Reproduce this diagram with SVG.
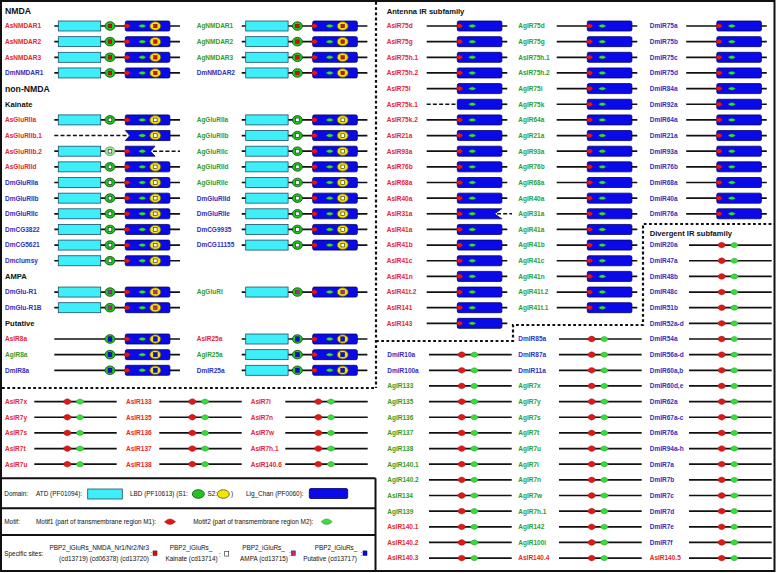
<svg xmlns="http://www.w3.org/2000/svg" width="778" height="573" viewBox="0 0 778 573">
<style>
text{font-family:"Liberation Sans",Arial,Helvetica,sans-serif}
.lb{font-size:6.5px;font-weight:bold}
.r{fill:#e8262b}.g{fill:#2e9e2e}.b{fill:#2f2fbf}
.h1{font-size:8.7px;font-weight:bold;fill:#111}
.h2{font-size:7.6px;font-weight:bold;fill:#111}
.lg{font-size:6.4px;fill:#111}
.mid{text-anchor:middle}.end{text-anchor:end}
.ln{stroke:#111;stroke-width:1.7;fill:none}
.dl{stroke:#111;stroke-width:1.5;stroke-dasharray:4 2.2;fill:none}
.dv{stroke:#111;stroke-width:2.2;stroke-dasharray:2.8 2.4;fill:none}
.sd{stroke:#111;stroke-width:2;fill:none}
.box{fill:#0a0ae8;stroke:#000070;stroke-width:0.8}
.atd{fill:#3eeef8;stroke:#1d4f66;stroke-width:0.8}
.s1{fill:#22c422;stroke:#0b4d0b;stroke-width:0.8}
.s1p{fill:#a8e6a0;stroke:#5a8a5a;stroke-width:0.8}
.s2{fill:#f4e400;stroke:#5e5600;stroke-width:0.8}
.mr{fill:#e01818;stroke:#700000;stroke-width:0.4}
.mg{fill:#36e036;stroke:#0a600a;stroke-width:0.4}
</style>
<defs>
<rect id="atd" class="atd" x="0" y="-5" width="42.4" height="10"/>
<rect id="lch" class="box" x="0" y="-5" width="44.6" height="10" rx="1.5"/>
<ellipse id="s1" class="s1" rx="5" ry="4.3"/>
<ellipse id="s2" class="s2" rx="5.5" ry="4.3"/>
<path id="m1s" class="mr" d="M-3.4,0Q0,-4.7 3.4,0Q0,4.7 -3.4,0Z"/>
<path id="m2s" class="mg" d="M-3.8,0Q0,-3.4 3.8,0Q0,3.4 -3.8,0Z"/>
<path id="m1" class="mr" d="M-4.4,0Q0,-5.8 4.4,0Q0,5.8 -4.4,0Z"/>
<path id="m2" class="mg" d="M-4.2,0Q0,-5.2 4.2,0Q0,5.2 -4.2,0Z"/>
<path id="m1L" class="mr" d="M-5.5,0Q0,-5.6 5.5,0Q0,5.6 -5.5,0Z"/>
<path id="m2L" class="mg" d="M-5.5,0Q0,-5.6 5.5,0Q0,5.6 -5.5,0Z"/>
<rect id="qN" x="-1.8" y="-1.8" width="3.6" height="3.6" fill="#d01010" stroke="#600" stroke-width="0.4"/>
<rect id="qK" x="-1.8" y="-1.8" width="3.6" height="3.6" fill="#fff" stroke="#222" stroke-width="0.6"/>
<rect id="qA" x="-1.8" y="-1.8" width="3.6" height="3.6" fill="#c42a5c" stroke="#4a2a9a" stroke-width="0.6"/>
<rect id="qP" x="-2" y="-2.2" width="4" height="4.4" fill="#0a0ae8" stroke="#00006a" stroke-width="0.4"/>
<g id="tN"><path class="ln" d="M54.3,0H180"/><use href="#atd" x="58.3"/><use href="#s1" x="110"/><use href="#qN" x="110"/><use href="#lch" x="125.3"/><use href="#m1s" x="127"/><use href="#m2s" x="142.3"/><use href="#s2" x="155.3"/><use href="#qN" x="155.3"/></g>
<g id="tK"><path class="ln" d="M54.3,0H180"/><use href="#atd" x="58.3"/><use href="#s1" x="110"/><use href="#qK" x="110"/><use href="#lch" x="125.3"/><use href="#m1s" x="127"/><use href="#m2s" x="142.3"/><use href="#s2" x="155.3"/><use href="#qK" x="155.3"/></g>
<g id="tA"><path class="ln" d="M54.3,0H180"/><use href="#atd" x="58.3"/><use href="#s1" x="110"/><use href="#qA" x="110"/><use href="#lch" x="125.3"/><use href="#m1s" x="127"/><use href="#m2s" x="142.3"/><use href="#s2" x="155.3"/><use href="#qA" x="155.3"/></g>
<g id="tP"><path class="ln" d="M54.3,0H180"/><use href="#s1" x="110"/><use href="#qP" x="110"/><use href="#lch" x="125.3"/><use href="#m1s" x="127"/><use href="#m2s" x="142.3"/><use href="#s2" x="155.3"/><use href="#qP" x="155.3"/></g>
<g id="tPa"><path class="ln" d="M54.3,0H180"/><use href="#atd" x="58.3"/><use href="#s1" x="110"/><use href="#qP" x="110"/><use href="#lch" x="125.3"/><use href="#m1s" x="127"/><use href="#m2s" x="142.3"/><use href="#s2" x="155.3"/><use href="#qP" x="155.3"/></g>
<g id="tI"><path class="ln" d="M426.7,0H507.3"/><use href="#lch" x="457.3"/><use href="#m1s" x="459.6"/><use href="#m2s" x="472.3"/></g>
<g id="tD"><path class="ln" d="M429,0H511.7"/><use href="#m1" x="461.7"/><use href="#m2" x="474.3"/></g>
<g id="tL"><path class="ln" d="M34.3,0H116.7"/><use href="#m1" x="67.3"/><use href="#m2" x="80"/></g>
</defs>
<rect x="1" y="1" width="773.5" height="570" fill="#fff" stroke="#111" stroke-width="2"/>
<g id="connectors">
<path class="dv" d="M376,2V388M2,388H376M376,341H513V325H643V224H774"/>
<path class="sd" d="M1,478.3H375.5M1,508.3H375.5M1,535H375.5M375.5,478.3V571"/>
</g>
<g id="headings">
<text class="h1" x="5" y="14.1">NMDA</text>
<text class="h1" x="5" y="91.7">non-NMDA</text>
<text class="h2" x="5" y="107">Kainate</text>
<text class="h2" x="5" y="279.1">AMPA</text>
<text class="h2" x="5" y="326">Putative</text>
<text class="h2" x="386.7" y="13.7">Antenna IR subfamily</text>
<text class="h2" x="649.7" y="235.7">Divergent IR subfamily</text>
</g>
<g id="left-col1">
<g id="l1-AsNMDAR1"><text class="lb r" x="5" y="28.3">AsNMDAR1</text><use href="#tN" y="26"/></g>
<g id="l1-AsNMDAR2"><text class="lb r" x="5" y="44">AsNMDAR2</text><use href="#tN" y="41.65"/></g>
<g id="l1-AsNMDAR3"><text class="lb r" x="5" y="59.6">AsNMDAR3</text><use href="#tN" y="57.3"/></g>
<g id="l1-DmNMDAR1"><text class="lb b" x="5" y="75.3">DmNMDAR1</text><use href="#tN" y="72.95"/></g>
<g id="l1-AsGluRIIa"><text class="lb r" x="5" y="122.2">AsGluRIIa</text><use href="#tK" y="119.9"/></g>
<g id="l1-AsGluRIIb.1"><text class="lb r" x="5" y="137.9">AsGluRIIb.1</text><path class="dl" d="M54.3,135.55H129"/><path class="ln" d="M169,135.55H180"/><path class="box" d="M125.3,130.55H170V140.55H125.3L130,135.55Z"/><use href="#m2s" x="142.3" y="135.55"/><use href="#s2" x="155.3" y="135.55"/><use href="#qK" x="155.3" y="135.55"/></g>
<g id="l1-AsGluRIIb.2"><text class="lb r" x="5" y="153.5">AsGluRIIb.2</text><path class="ln" d="M54.3,151.2H126"/><use href="#atd" x="58.3" y="151.2"/><ellipse class="s1p" cx="110" cy="151.2" rx="5" ry="4.3"/><use href="#qK" x="110" y="151.2"/><path class="dl" d="M153,151.2H180"/><path class="box" d="M125.3,146.2H155L150.5,151.2L155,156.2H125.3Z"/><use href="#m1s" x="127" y="151.2"/><use href="#m2s" x="142.3" y="151.2"/></g>
<g id="l1-AsGluRIId"><text class="lb r" x="5" y="169.2">AsGluRIId</text><use href="#tK" y="166.85"/></g>
<g id="l1-DmGluRIIa"><text class="lb b" x="5" y="184.8">DmGluRIIa</text><use href="#tK" y="182.5"/></g>
<g id="l1-DmGluRIIb"><text class="lb b" x="5" y="200.5">DmGluRIIb</text><use href="#tK" y="198.15"/></g>
<g id="l1-DmGluRIIc"><text class="lb b" x="5" y="216.1">DmGluRIIc</text><use href="#tK" y="213.8"/></g>
<g id="l1-DmCG3822"><text class="lb b" x="5" y="231.8">DmCG3822</text><use href="#tK" y="229.45"/></g>
<g id="l1-DmCG5621"><text class="lb b" x="5" y="247.4">DmCG5621</text><use href="#tK" y="245.1"/></g>
<g id="l1-Dmclumsy"><text class="lb b" x="5" y="263.1">Dmclumsy</text><use href="#tK" y="260.75"/></g>
<g id="l1-DmGlu-R1"><text class="lb b" x="5" y="294.4">DmGlu-R1</text><use href="#tA" y="292.05"/></g>
<g id="l1-DmGlu-R1B"><text class="lb b" x="5" y="310">DmGlu-R1B</text><use href="#tA" y="307.7"/></g>
<g id="l1-AsIR8a"><text class="lb r" x="5" y="341.3">AsIR8a</text><use href="#tP" y="339"/></g>
<g id="l1-AgIR8a"><text class="lb g" x="5" y="357">AgIR8a</text><use href="#tP" y="354.65"/></g>
<g id="l1-DmIR8a"><text class="lb b" x="5" y="372.6">DmIR8a</text><use href="#tP" y="370.3"/></g>
</g>
<g id="left-col2">
<g id="l2-AgNMDAR1"><text class="lb g" x="196.7" y="28.3">AgNMDAR1</text><use href="#tN" x="187.4" y="26"/></g>
<g id="l2-AgNMDAR2"><text class="lb g" x="196.7" y="44">AgNMDAR2</text><use href="#tN" x="187.4" y="41.65"/></g>
<g id="l2-AgNMDAR3"><text class="lb g" x="196.7" y="59.6">AgNMDAR3</text><use href="#tN" x="187.4" y="57.3"/></g>
<g id="l2-DmNMDAR2"><text class="lb b" x="196.7" y="75.3">DmNMDAR2</text><use href="#tN" x="187.4" y="72.95"/></g>
<g id="l2-AgGluRIIa"><text class="lb g" x="196.7" y="122.2">AgGluRIIa</text><use href="#tK" x="187.4" y="119.9"/></g>
<g id="l2-AgGluRIIb"><text class="lb g" x="196.7" y="137.9">AgGluRIIb</text><use href="#tK" x="187.4" y="135.55"/></g>
<g id="l2-AgGluRIIc"><text class="lb g" x="196.7" y="153.5">AgGluRIIc</text><use href="#tK" x="187.4" y="151.2"/></g>
<g id="l2-AgGluRIId"><text class="lb g" x="196.7" y="169.2">AgGluRIId</text><use href="#tK" x="187.4" y="166.85"/></g>
<g id="l2-AgGluRIIe"><text class="lb g" x="196.7" y="184.8">AgGluRIIe</text><use href="#tK" x="187.4" y="182.5"/></g>
<g id="l2-DmGluRIId"><text class="lb b" x="196.7" y="200.5">DmGluRIId</text><use href="#tK" x="187.4" y="198.15"/></g>
<g id="l2-DmGluRIIe"><text class="lb b" x="196.7" y="216.1">DmGluRIIe</text><use href="#tK" x="187.4" y="213.8"/></g>
<g id="l2-DmCG9935"><text class="lb b" x="196.7" y="231.8">DmCG9935</text><use href="#tK" x="187.4" y="229.45"/></g>
<g id="l2-DmCG11155"><text class="lb b" x="196.7" y="247.4">DmCG11155</text><use href="#tK" x="187.4" y="245.1"/></g>
<g id="l2-AgGluRI"><text class="lb g" x="196.7" y="294.4">AgGluRI</text><use href="#tA" x="187.4" y="292.05"/></g>
<g id="l2-AsIR25a"><text class="lb r" x="196.7" y="341.3">AsIR25a</text><use href="#tPa" x="187.4" y="339"/></g>
<g id="l2-AgIR25a"><text class="lb g" x="196.7" y="357">AgIR25a</text><use href="#tPa" x="187.4" y="354.65"/></g>
<g id="l2-DmIR25a"><text class="lb b" x="196.7" y="372.6">DmIR25a</text><use href="#tPa" x="187.4" y="370.3"/></g>
</g>
<g id="antenna-colA">
<g id="aA-AsIR75d"><text class="lb r" x="386.7" y="28.3">AsIR75d</text><use href="#tI" y="26"/></g>
<g id="aA-AsIR75g"><text class="lb r" x="386.7" y="44">AsIR75g</text><use href="#tI" y="41.65"/></g>
<g id="aA-AsIR75h.1"><text class="lb r" x="386.7" y="59.6">AsIR75h.1</text><use href="#tI" y="57.3"/></g>
<g id="aA-AsIR75h.2"><text class="lb r" x="386.7" y="75.3">AsIR75h.2</text><use href="#tI" y="72.95"/></g>
<g id="aA-AsIR75l"><text class="lb r" x="386.7" y="90.9">AsIR75l</text><use href="#tI" y="88.6"/></g>
<g id="aA-AsIR75k.1"><text class="lb r" x="386.7" y="106.6">AsIR75k.1</text><path class="dl" d="M426.7,104.25H458"/><path class="ln" d="M501,104.25H507.3"/><use href="#lch" x="457.3" y="104.25"/><use href="#m2s" x="472.3" y="104.25"/></g>
<g id="aA-AsIR75k.2"><text class="lb r" x="386.7" y="122.2">AsIR75k.2</text><use href="#tI" y="119.9"/></g>
<g id="aA-AsIR21a"><text class="lb r" x="386.7" y="137.9">AsIR21a</text><use href="#tI" y="135.55"/></g>
<g id="aA-AsIR93a"><text class="lb r" x="386.7" y="153.5">AsIR93a</text><use href="#tI" y="151.2"/></g>
<g id="aA-AsIR76b"><text class="lb r" x="386.7" y="169.2">AsIR76b</text><use href="#tI" y="166.85"/></g>
<g id="aA-AsIR68a"><text class="lb r" x="386.7" y="184.8">AsIR68a</text><use href="#tI" y="182.5"/></g>
<g id="aA-AsIR40a"><text class="lb r" x="386.7" y="200.5">AsIR40a</text><use href="#tI" y="198.15"/></g>
<g id="aA-AsIR31a"><text class="lb r" x="386.7" y="216.1">AsIR31a</text><path class="ln" d="M426.7,213.8H458"/><path class="dl" d="M497,213.8H512"/><path class="box" d="M457.3,208.8H501.7L494.5,213.8L501.7,218.8H457.3Z"/><use href="#m1s" x="459.6" y="213.8"/><use href="#m2s" x="472.3" y="213.8"/></g>
<g id="aA-AsIR41a"><text class="lb r" x="386.7" y="231.8">AsIR41a</text><use href="#tI" y="229.45"/></g>
<g id="aA-AsIR41b"><text class="lb r" x="386.7" y="247.4">AsIR41b</text><use href="#tI" y="245.1"/></g>
<g id="aA-AsIR41c"><text class="lb r" x="386.7" y="263.1">AsIR41c</text><use href="#tI" y="260.75"/></g>
<g id="aA-AsIR41n"><text class="lb r" x="386.7" y="278.7">AsIR41n</text><use href="#tI" y="276.4"/></g>
<g id="aA-AsIR41t.2"><text class="lb r" x="386.7" y="294.4">AsIR41t.2</text><use href="#tI" y="292.05"/></g>
<g id="aA-AsIR141"><text class="lb r" x="386.7" y="310">AsIR141</text><use href="#tI" y="307.7"/></g>
<g id="aA-AsIR143"><text class="lb r" x="386.7" y="325.7">AsIR143</text><use href="#tI" y="323.35"/></g>
</g>
<g id="antenna-colB">
<g id="aB-AgIR75d"><text class="lb g" x="518.3" y="28.3">AgIR75d</text><use href="#tI" x="130" y="26"/></g>
<g id="aB-AgIR75g"><text class="lb g" x="518.3" y="44">AgIR75g</text><use href="#tI" x="130" y="41.65"/></g>
<g id="aB-AsIR75h.1"><text class="lb g" x="518.3" y="59.6">AsIR75h.1</text><use href="#tI" x="130" y="57.3"/></g>
<g id="aB-AsIR75h.2"><text class="lb g" x="518.3" y="75.3">AsIR75h.2</text><use href="#tI" x="130" y="72.95"/></g>
<g id="aB-AgIR75l"><text class="lb g" x="518.3" y="90.9">AgIR75l</text><use href="#tI" x="130" y="88.6"/></g>
<g id="aB-AgIR75k"><text class="lb g" x="518.3" y="106.6">AgIR75k</text><use href="#tI" x="130" y="104.25"/></g>
<g id="aB-AgIR64a"><text class="lb g" x="518.3" y="122.2">AgIR64a</text><use href="#tI" x="130" y="119.9"/></g>
<g id="aB-AgIR21a"><text class="lb g" x="518.3" y="137.9">AgIR21a</text><use href="#tI" x="130" y="135.55"/></g>
<g id="aB-AgIR93a"><text class="lb g" x="518.3" y="153.5">AgIR93a</text><use href="#tI" x="130" y="151.2"/></g>
<g id="aB-AgIR76b"><text class="lb g" x="518.3" y="169.2">AgIR76b</text><use href="#tI" x="130" y="166.85"/></g>
<g id="aB-AgIR68a"><text class="lb g" x="518.3" y="184.8">AgIR68a</text><use href="#tI" x="130" y="182.5"/></g>
<g id="aB-AgIR40a"><text class="lb g" x="518.3" y="200.5">AgIR40a</text><use href="#tI" x="130" y="198.15"/></g>
<g id="aB-AgIR31a"><text class="lb g" x="518.3" y="216.1">AgIR31a</text><use href="#tI" x="130" y="213.8"/></g>
<g id="aB-AgIR41a"><text class="lb g" x="518.3" y="231.8">AgIR41a</text><use href="#tI" x="130" y="229.45"/></g>
<g id="aB-AgIR41b"><text class="lb g" x="518.3" y="247.4">AgIR41b</text><use href="#tI" x="130" y="245.1"/></g>
<g id="aB-AgIR41c"><text class="lb g" x="518.3" y="263.1">AgIR41c</text><use href="#tI" x="130" y="260.75"/></g>
<g id="aB-AgIR41n"><text class="lb g" x="518.3" y="278.7">AgIR41n</text><use href="#tI" x="130" y="276.4"/></g>
<g id="aB-AgIR41t.2"><text class="lb g" x="518.3" y="294.4">AgIR41t.2</text><use href="#tI" x="130" y="292.05"/></g>
<g id="aB-AgIR41t.1"><text class="lb g" x="518.3" y="310">AgIR41t.1</text><use href="#tI" x="130" y="307.7"/></g>
</g>
<g id="antenna-colC">
<g id="aC-DmIR75a"><text class="lb b" x="649.7" y="28.3">DmIR75a</text><use href="#tI" x="259.5" y="26"/></g>
<g id="aC-DmIR75b"><text class="lb b" x="649.7" y="44">DmIR75b</text><use href="#tI" x="259.5" y="41.65"/></g>
<g id="aC-DmIR75c"><text class="lb b" x="649.7" y="59.6">DmIR75c</text><use href="#tI" x="259.5" y="57.3"/></g>
<g id="aC-DmIR75d"><text class="lb b" x="649.7" y="75.3">DmIR75d</text><use href="#tI" x="259.5" y="72.95"/></g>
<g id="aC-DmIR84a"><text class="lb b" x="649.7" y="90.9">DmIR84a</text><use href="#tI" x="259.5" y="88.6"/></g>
<g id="aC-DmIR92a"><text class="lb b" x="649.7" y="106.6">DmIR92a</text><use href="#tI" x="259.5" y="104.25"/></g>
<g id="aC-DmIR64a"><text class="lb b" x="649.7" y="122.2">DmIR64a</text><use href="#tI" x="259.5" y="119.9"/></g>
<g id="aC-DmIR21a"><text class="lb b" x="649.7" y="137.9">DmIR21a</text><use href="#tI" x="259.5" y="135.55"/></g>
<g id="aC-DmIR93a"><text class="lb b" x="649.7" y="153.5">DmIR93a</text><use href="#tI" x="259.5" y="151.2"/></g>
<g id="aC-DmIR76b"><text class="lb b" x="649.7" y="169.2">DmIR76b</text><use href="#tI" x="259.5" y="166.85"/></g>
<g id="aC-DmIR68a"><text class="lb b" x="649.7" y="184.8">DmIR68a</text><use href="#tI" x="259.5" y="182.5"/></g>
<g id="aC-DmIR40a"><text class="lb b" x="649.7" y="200.5">DmIR40a</text><use href="#tI" x="259.5" y="198.15"/></g>
<g id="aC-DmIR76a"><text class="lb b" x="649.7" y="216.1">DmIR76a</text><use href="#tI" x="259.5" y="213.8"/></g>
</g>
<g id="divergent-colC">
<g id="dC-DmIR20a"><text class="lb b" x="649.7" y="247.4">DmIR20a</text><use href="#tD" x="260" y="245.1"/></g>
<g id="dC-DmIR47a"><text class="lb b" x="649.7" y="263.1">DmIR47a</text><use href="#tD" x="260" y="260.75"/></g>
<g id="dC-DmIR48b"><text class="lb b" x="649.7" y="278.7">DmIR48b</text><use href="#tD" x="260" y="276.4"/></g>
<g id="dC-DmIR48c"><text class="lb b" x="649.7" y="294.4">DmIR48c</text><use href="#tD" x="260" y="292.05"/></g>
<g id="dC-DmIR51b"><text class="lb b" x="649.7" y="310">DmIR51b</text><use href="#tD" x="260" y="307.7"/></g>
<g id="dC-DmIR52a-d"><text class="lb b" x="649.7" y="325.7">DmIR52a-d</text><use href="#tD" x="260" y="323.35"/></g>
<g id="dC-DmIR54a"><text class="lb b" x="649.7" y="341.3">DmIR54a</text><use href="#tD" x="260" y="339"/></g>
<g id="dC-DmIR56a-d"><text class="lb b" x="649.7" y="357">DmIR56a-d</text><use href="#tD" x="260" y="354.65"/></g>
<g id="dC-DmIR60a_b"><text class="lb b" x="649.7" y="372.6">DmIR60a,b</text><use href="#tD" x="260" y="370.3"/></g>
<g id="dC-DmIR60d_e"><text class="lb b" x="649.7" y="388.3">DmIR60d,e</text><use href="#tD" x="260" y="385.95"/></g>
<g id="dC-DmIR62a"><text class="lb b" x="649.7" y="403.9">DmIR62a</text><use href="#tD" x="260" y="401.6"/></g>
<g id="dC-DmIR67a-c"><text class="lb b" x="649.7" y="419.6">DmIR67a-c</text><use href="#tD" x="260" y="417.25"/></g>
<g id="dC-DmIR76a"><text class="lb b" x="649.7" y="435.2">DmIR76a</text><use href="#tD" x="260" y="432.9"/></g>
<g id="dC-DmIR94a-h"><text class="lb b" x="649.7" y="450.9">DmIR94a-h</text><use href="#tD" x="260" y="448.55"/></g>
<g id="dC-DmIR7a"><text class="lb b" x="649.7" y="466.5">DmIR7a</text><use href="#tD" x="260" y="464.2"/></g>
<g id="dC-DmIR7b"><text class="lb b" x="649.7" y="482.2">DmIR7b</text><use href="#tD" x="260" y="479.85"/></g>
<g id="dC-DmIR7c"><text class="lb b" x="649.7" y="497.8">DmIR7c</text><use href="#tD" x="260" y="495.5"/></g>
<g id="dC-DmIR7d"><text class="lb b" x="649.7" y="513.5">DmIR7d</text><use href="#tD" x="260" y="511.15"/></g>
<g id="dC-DmIR7e"><text class="lb b" x="649.7" y="529.1">DmIR7e</text><use href="#tD" x="260" y="526.8"/></g>
<g id="dC-DmIR7f"><text class="lb b" x="649.7" y="544.8">DmIR7f</text><use href="#tD" x="260" y="542.45"/></g>
<g id="dC-AsIR140.5"><text class="lb r" x="649.7" y="560.4">AsIR140.5</text><use href="#tD" x="260" y="558.1"/></g>
</g>
<g id="divergent-colB">
<g id="dB-DmIR85a"><text class="lb b" x="518.3" y="341.3">DmIR85a</text><use href="#tD" x="130" y="339"/></g>
<g id="dB-DmIR87a"><text class="lb b" x="518.3" y="357">DmIR87a</text><use href="#tD" x="130" y="354.65"/></g>
<g id="dB-DmIR11a"><text class="lb b" x="518.3" y="372.6">DmIR11a</text><use href="#tD" x="130" y="370.3"/></g>
<g id="dB-AgIR7x"><text class="lb g" x="518.3" y="388.3">AgIR7x</text><use href="#tD" x="130" y="385.95"/></g>
<g id="dB-AgIR7y"><text class="lb g" x="518.3" y="403.9">AgIR7y</text><use href="#tD" x="130" y="401.6"/></g>
<g id="dB-AgIR7s"><text class="lb g" x="518.3" y="419.6">AgIR7s</text><use href="#tD" x="130" y="417.25"/></g>
<g id="dB-AgIR7t"><text class="lb g" x="518.3" y="435.2">AgIR7t</text><use href="#tD" x="130" y="432.9"/></g>
<g id="dB-AgIR7u"><text class="lb g" x="518.3" y="450.9">AgIR7u</text><use href="#tD" x="130" y="448.55"/></g>
<g id="dB-AgIR7i"><text class="lb g" x="518.3" y="466.5">AgIR7i</text><use href="#tD" x="130" y="464.2"/></g>
<g id="dB-AgIR7n"><text class="lb g" x="518.3" y="482.2">AgIR7n</text><use href="#tD" x="130" y="479.85"/></g>
<g id="dB-AgIR7w"><text class="lb g" x="518.3" y="497.8">AgIR7w</text><use href="#tD" x="130" y="495.5"/></g>
<g id="dB-AgIR7h.1"><text class="lb g" x="518.3" y="513.5">AgIR7h.1</text><use href="#tD" x="130" y="511.15"/></g>
<g id="dB-AgIR142"><text class="lb g" x="518.3" y="529.1">AgIR142</text><use href="#tD" x="130" y="526.8"/></g>
<g id="dB-AgIR100i"><text class="lb g" x="518.3" y="544.8">AgIR100i</text><use href="#tD" x="130" y="542.45"/></g>
<g id="dB-AsIR140.4"><text class="lb r" x="518.3" y="560.4">AsIR140.4</text><use href="#tD" x="130" y="558.1"/></g>
</g>
<g id="divergent-colA">
<g id="dA-DmIR10a"><text class="lb b" x="387.3" y="357">DmIR10a</text><use href="#tD" y="354.65"/></g>
<g id="dA-DmIR100a"><text class="lb b" x="387.3" y="372.6">DmIR100a</text><use href="#tD" y="370.3"/></g>
<g id="dA-AgIR133"><text class="lb g" x="387.3" y="388.3">AgIR133</text><use href="#tD" y="385.95"/></g>
<g id="dA-AgIR135"><text class="lb g" x="387.3" y="403.9">AgIR135</text><use href="#tD" y="401.6"/></g>
<g id="dA-AgIR136"><text class="lb g" x="387.3" y="419.6">AgIR136</text><use href="#tD" y="417.25"/></g>
<g id="dA-AgIR137"><text class="lb g" x="387.3" y="435.2">AgIR137</text><use href="#tD" y="432.9"/></g>
<g id="dA-AgIR138"><text class="lb g" x="387.3" y="450.9">AgIR138</text><use href="#tD" y="448.55"/></g>
<g id="dA-AgIR140.1"><text class="lb g" x="387.3" y="466.5">AgIR140.1</text><use href="#tD" y="464.2"/></g>
<g id="dA-AgIR140.2"><text class="lb g" x="387.3" y="482.2">AgIR140.2</text><use href="#tD" y="479.85"/></g>
<g id="dA-AsIR134"><text class="lb g" x="387.3" y="497.8">AsIR134</text><use href="#tD" y="495.5"/></g>
<g id="dA-AgIR139"><text class="lb g" x="387.3" y="513.5">AgIR139</text><use href="#tD" y="511.15"/></g>
<g id="dA-AsIR140.1"><text class="lb r" x="387.3" y="529.1">AsIR140.1</text><use href="#tD" y="526.8"/></g>
<g id="dA-AsIR140.2"><text class="lb r" x="387.3" y="544.8">AsIR140.2</text><use href="#tD" y="542.45"/></g>
<g id="dA-AsIR140.3"><text class="lb r" x="387.3" y="560.4">AsIR140.3</text><use href="#tD" y="558.1"/></g>
</g>
<g id="lower-left">
<g id="b1-AsIR7x"><text class="lb r" x="5" y="403.9">AsIR7x</text><use href="#tL" y="401.6"/></g>
<g id="b1-AsIR7y"><text class="lb r" x="5" y="419.6">AsIR7y</text><use href="#tL" y="417.25"/></g>
<g id="b1-AsIR7s"><text class="lb r" x="5" y="435.2">AsIR7s</text><use href="#tL" y="432.9"/></g>
<g id="b1-AsIR7t"><text class="lb r" x="5" y="450.9">AsIR7t</text><use href="#tL" y="448.55"/></g>
<g id="b1-AsIR7u"><text class="lb r" x="5" y="466.5">AsIR7u</text><use href="#tL" y="464.2"/></g>
<g id="b2-AsIR133"><text class="lb r" x="126" y="403.9">AsIR133</text><use href="#tL" x="125" y="401.6"/></g>
<g id="b2-AsIR135"><text class="lb r" x="126" y="419.6">AsIR135</text><use href="#tL" x="125" y="417.25"/></g>
<g id="b2-AsIR136"><text class="lb r" x="126" y="435.2">AsIR136</text><use href="#tL" x="125" y="432.9"/></g>
<g id="b2-AsIR137"><text class="lb r" x="126" y="450.9">AsIR137</text><use href="#tL" x="125" y="448.55"/></g>
<g id="b2-AsIR138"><text class="lb r" x="126" y="466.5">AsIR138</text><use href="#tL" x="125" y="464.2"/></g>
<g id="b3-AsIR7i"><text class="lb r" x="250.7" y="403.9">AsIR7i</text><use href="#tL" x="251" y="401.6"/></g>
<g id="b3-AsIR7n"><text class="lb r" x="250.7" y="419.6">AsIR7n</text><use href="#tL" x="251" y="417.25"/></g>
<g id="b3-AsIR7w"><text class="lb r" x="250.7" y="435.2">AsIR7w</text><use href="#tL" x="251" y="432.9"/></g>
<g id="b3-AsIR7h.1"><text class="lb r" x="250.7" y="450.9">AsIR7h.1</text><use href="#tL" x="251" y="448.55"/></g>
<g id="b3-AsIR140.6"><text class="lb r" x="250.7" y="466.5">AsIR140.6</text><use href="#tL" x="251" y="464.2"/></g>
</g>
<g id="legend">
<text class="lg" x="4.3" y="496.3">Domain:</text>
<text class="lg" x="36" y="496.3">ATD (PF01094):</text>
<rect class="atd" x="87.7" y="489" width="34.6" height="10"/>
<text class="lg" x="130" y="496.3">LBD (PF10613) (S1:</text>
<ellipse class="s1" cx="198.3" cy="494" rx="6" ry="4.3"/>
<text class="lg" x="207.5" y="496.3">S2:</text>
<ellipse class="s2" cx="223.3" cy="494" rx="6" ry="4.3"/>
<text class="lg" x="231" y="496.3">)</text>
<text class="lg" x="246" y="496.3">Lig_Chan (PF0060):</text>
<rect class="box" x="309.3" y="488.5" width="38.4" height="10" rx="1.5"/>
<text class="lg" x="4.3" y="524">Motif:</text>
<text class="lg" x="36" y="524">Motif1 (part of transmembrane region M1):</text>
<use href="#m1L" x="170" y="521.7"/>
<text class="lg" x="193.3" y="524">Motif2 (part of transmembrane region M2):</text>
<use href="#m2L" x="326.7" y="521.7"/>
<text class="lg" x="4.3" y="555.6">Specific sites:</text>
<text class="lg end" x="149" y="550.3">PBP2_iGluRs_NMDA_Nr1/Nr2/Nr3</text>
<text class="lg end" x="149" y="561.4">(cd13719) (cd06378) (cd13720)</text>
<text class="lg" x="150.3" y="556">:</text>
<rect x="153" y="550.9" width="4" height="4.6" fill="#d01010" stroke="#600" stroke-width="0.5"/>
<text class="lg mid" x="191" y="550.3">PBP2_iGluRs_</text>
<text class="lg mid" x="191.5" y="561.4">Kainate (cd13714)</text>
<text class="lg" x="219" y="556.5">:</text>
<rect x="224.7" y="551.5" width="4" height="4.6" fill="#fff" stroke="#222" stroke-width="0.6"/>
<text class="lg mid" x="263.5" y="550.3">PBP2_iGluRs_</text>
<text class="lg mid" x="264" y="561.4">AMPA (cd13715)</text>
<text class="lg" x="289" y="556">:</text>
<rect x="291.3" y="550.9" width="4" height="4.6" fill="#c42a5c" stroke="#4a2a9a" stroke-width="0.6"/>
<text class="lg mid" x="336" y="550.3">PBP2_iGluRs_</text>
<text class="lg mid" x="330" y="561.4">Putative (cd13717)</text>
<text class="lg" x="360.5" y="556">:</text>
<rect x="363" y="550.9" width="4" height="4.6" fill="#0a0ae8" stroke="#00006a" stroke-width="0.5"/>
</g>
</svg>
